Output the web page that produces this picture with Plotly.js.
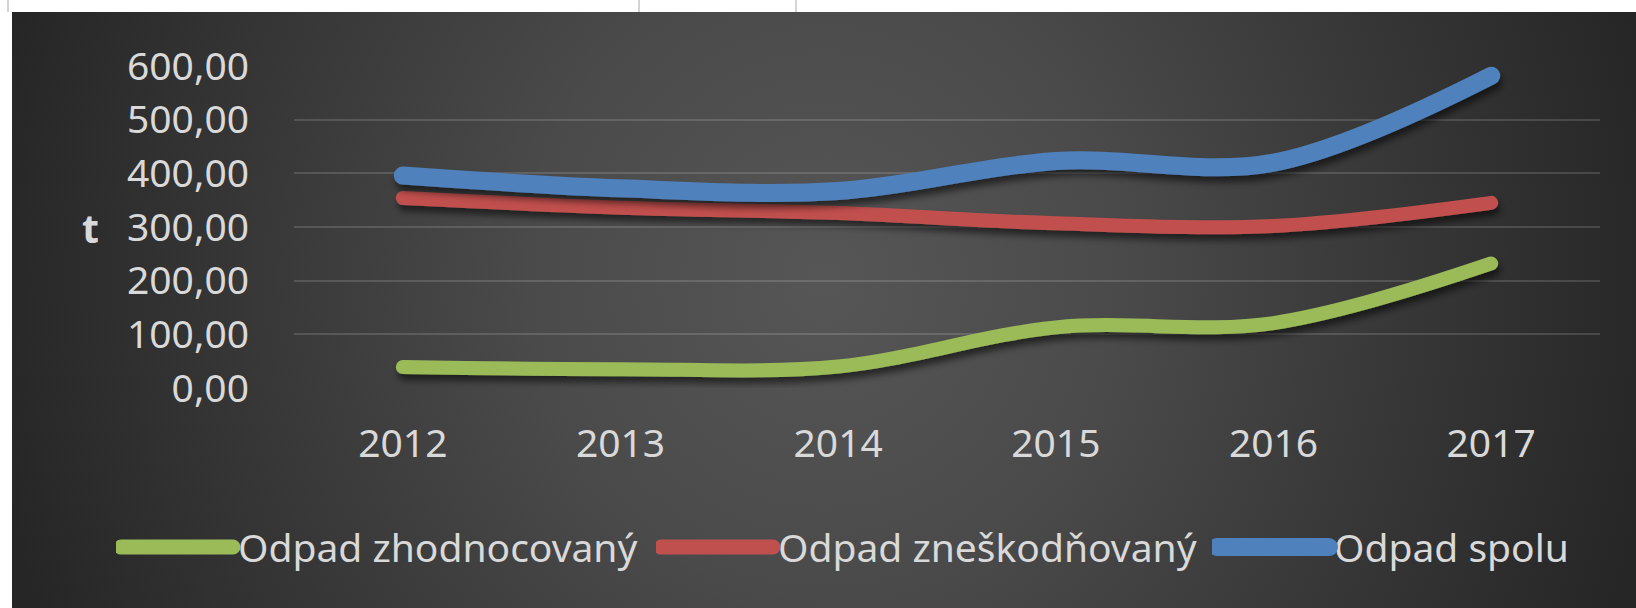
<!DOCTYPE html>
<html>
<head>
<meta charset="utf-8">
<script src="https://cdn.plot.ly/plotly-3.0.1.min.js"></script>
<style>
  html, body { margin: 0; padding: 0; background: #ffffff; }
  body { width: 1636px; height: 608px; position: relative; overflow: hidden; }
  #bg {
    position: absolute; left: 12px; top: 12px; width: 1624px; height: 596px;
    background: radial-gradient(ellipse 52% 150% at 50% 45%, #565656 0%, #4a4a4a 35%, #363636 70%, #262626 100%);
  }
  .vline { position: absolute; top: 0; width: 2px; height: 12px; background: #d4d4d4; }
  #chart { position: absolute; left: 0; top: 0; width: 1636px; height: 608px; }
  .scatterlayer path.js-line { stroke-linecap: round; stroke-linejoin: round; }
  .legendlines path { stroke-linecap: round; }
  g.legend .legendlines path { stroke-width: 15px !important; }
  g.legend2 .legendlines path { stroke-width: 15px !important; }
  g.legend3 .legendlines path { stroke-width: 18px !important; }
</style>
</head>
<body>
<div id="bg"></div>
<div class="vline" style="left:7px"></div>
<div class="vline" style="left:638px"></div>
<div class="vline" style="left:795px"></div>
<div id="chart"></div>
<script>
const years = ['2012', '2013', '2014', '2015', '2016', '2017'];
const zhodnocovany = [39, 35, 40, 113, 121, 232];
const zneskodnovany = [354, 336, 326, 307, 302, 345];
const spolu = [396, 372, 367, 423, 420, 582];
const seriesNames = ['Odpad zhodnocovaný', 'Odpad zneškodňovaný', 'Odpad spolu'];
const yTitle = 't';

const FONT = '"Noto Sans", "Open Sans", sans-serif';
const TXT = '#d9d9d9';

const traces = [
  { x: years, y: zhodnocovany, name: seriesNames[0], type: 'scatter', mode: 'lines', legend: 'legend',
    line: { color: '#9BBB59', width: 14, shape: 'spline', smoothing: 1 } },
  { x: years, y: zneskodnovany, name: seriesNames[1], type: 'scatter', mode: 'lines', legend: 'legend2',
    line: { color: '#C0504D', width: 14, shape: 'spline', smoothing: 1 } },
  { x: years, y: spolu, name: seriesNames[2], type: 'scatter', mode: 'lines', legend: 'legend3',
    line: { color: '#4F81BD', width: 18, shape: 'spline', smoothing: 1 } }
];

function legendAt(px) {
  return {
    orientation: 'h', xref: 'container', yref: 'container',
    x: px / 1636, xanchor: 'left', y: 0.1, yanchor: 'middle',
    font: { family: FONT, size: 39, color: TXT },
    itemwidth: 112, bgcolor: 'rgba(0,0,0,0)'
  };
}

const layout = {
  width: 1636, height: 608,
  paper_bgcolor: 'rgba(0,0,0,0)', plot_bgcolor: 'rgba(0,0,0,0)',
  margin: { l: 294, r: 36, t: 66, b: 220, pad: 0 },
  separators: ', ',
  font: { family: FONT, color: TXT, size: 39 },
  showlegend: true,
  legend: legendAt(116),
  legend2: legendAt(656),
  legend3: legendAt(1212),
  annotations: [
    { text: '<b>' + yTitle + '</b>', xref: 'paper', yref: 'paper', x: -0.156, y: 0.5,
      xanchor: 'center', yanchor: 'middle', showarrow: false,
      font: { family: FONT, size: 39, color: TXT } }
  ],
  xaxis: {
    type: 'category', range: [-0.5, 5.5], showgrid: false, zeroline: false,
    showline: false, ticks: '', ticklabelstandoff: 29,
    tickfont: { family: FONT, size: 39, color: TXT }
  },
  yaxis: {
    range: [0, 600], dtick: 100, tick0: 0, tickformat: '.2f',
    showgrid: true, gridcolor: 'rgba(255,255,255,0.14)', gridwidth: 2,
    zeroline: false, showline: false, ticks: '', ticklabelstandoff: 44,
    tickfont: { family: FONT, size: 39, color: TXT }
  }
};

Plotly.newPlot('chart', traces, layout, { displayModeBar: false, staticPlot: true }).then(function (gd) {
  const svgNS = 'http://www.w3.org/2000/svg';
  const svg = gd.querySelector('svg.main-svg');
  let defs = svg.querySelector('defs');
  if (!defs) { defs = document.createElementNS(svgNS, 'defs'); svg.insertBefore(defs, svg.firstChild); }
  const f = document.createElementNS(svgNS, 'filter');
  f.setAttribute('id', 'lshadow');
  f.setAttribute('filterUnits', 'userSpaceOnUse');
  f.setAttribute('x', '-200'); f.setAttribute('y', '-200');
  f.setAttribute('width', '2200'); f.setAttribute('height', '1000');
  f.innerHTML = '<feGaussianBlur in="SourceAlpha" stdDeviation="3.5"/>' +
    '<feOffset dx="2" dy="6" result="o"/>' +
    '<feComponentTransfer><feFuncA type="linear" slope="0.55"/></feComponentTransfer>' +
    '<feMerge><feMergeNode/><feMergeNode in="SourceGraphic"/></feMerge>';
  defs.appendChild(f);
  gd.querySelectorAll('.scatterlayer .trace').forEach(function (g) { g.setAttribute('filter', 'url(#lshadow)'); });
});
</script>
</body>
</html>
